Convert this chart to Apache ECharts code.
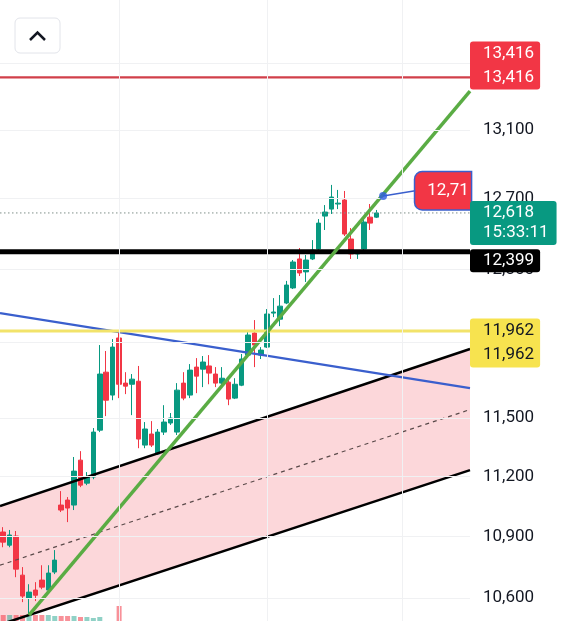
<!DOCTYPE html>
<html><head><meta charset="utf-8">
<script src="https://cdn.jsdelivr.net/npm/echarts@6/dist/echarts.min.js"></script>
<style>html,body{margin:0;padding:0;background:#fff;overflow:hidden}#c{width:563px;height:621px}</style>
</head><body><div id="c"></div>
<script>
// ---- data ----
const opens  = [10922,10857,10902,10711,10600,10639,10687,10639,10726,11056,11081,11056,11283,11166,11197,11437,11741,11620,11924,11683,11677,11693,11360,11417,11314,11427,11474,11427,11683,11620,11768,11757,11774,11731,11683,11688,11604,11672,11832,11951,11832,11875,12059,12026,12114,12197,12358,12286,12358,12414,12600,12640,12669,12692,12470,12386,12414,12594,12594];
const closes = [10872,10907,10740,10610,10629,10614,10653,10721,10784,11031,11041,11227,11156,11197,11427,11731,11593,11875,11677,11667,11704,11391,11443,11360,11427,11479,11500,11646,11604,11752,11720,11795,11736,11683,11709,11599,11677,11811,11940,11886,11859,12054,12065,12097,12213,12341,12280,12352,12408,12560,12623,12709,12674,12498,12386,12402,12566,12560,12618];
const lows   = [10847,10847,10701,10581,10519,10586,10643,10634,10716,11021,10971,11031,11146,11156,11186,11427,11510,11593,11604,11625,11515,11344,11344,11350,11309,11412,11464,11412,11593,11604,11630,11662,11677,11662,11672,11567,11599,11667,11827,11768,11811,11870,12037,11988,12108,12191,12263,12230,12352,12408,12521,12612,12640,12487,12358,12358,12391,12521,12589];
const highs  = [10946,10932,10927,10750,10667,10677,10759,10759,10833,11126,11096,11299,11329,11222,11448,11886,11854,11918,11962,11741,11731,11774,11479,11484,11443,11567,11526,11683,11741,11784,11816,11827,11832,11768,11768,11699,11709,11838,11956,12021,11875,12081,12141,12158,12236,12352,12419,12380,12464,12583,12663,12779,12750,12744,12532,12408,12589,12669,12635];
const volumes = [6,6,6,6,6,6,6,6,5,5,5,5,4,4,3,4,0,0,15,0,0,0,0,0,0,0,0,0,0,0,0,0,0,0,0,0,0,0,0,0,0,0,0,0,0,0,0,0,0,0,0,0,0,0,0,0,0,0,0];
const slots = Array.from({length: 73}, (_, i) => 'bar ' + (i + 1));
const yTicks = [10600, 10900, 11200, 11500, 11900, 12300, 12700, 13100, 13500];
const yMin = 10491, yMax = 13894;
const xStart = -0.5, xEnd = 72.5;
const timeGrid = [18, 41, 62];
const levelRed = 13416;
const levelYellow = 11962;
const levelBlack = 12399;
const lastPrice = 12618;
const lastTime = '15:33:11';
const blueLine = [[-0.5, 12059], [72.5, 11657]];
const greenLine = [[4, 10519], [72.5, 13333]];
const channelUpper = [[-0.5, 11051], [72.5, 11865]];
const channelLower = [[-0.5, 10474], [72.5, 11232]];
const channelMid = [[-0.5, 10759], [72.5, 11544]];
const notePoint = [59.0, 12715];
const noteLabelAt = [64.0, 12745];
const noteText = '12,71';

// ---- chart ----
const UP = '#089981', DOWN = '#f23645';
const fmt = v => Math.round(v).toLocaleString('en-US');
const candleData = opens.map((o, i) => [o, closes[i], lows[i], highs[i]]);
const hLine = v => [[xStart, v], [xEnd, v]];
const lineSeries = (data, color, width, z, type) => ({
  type: 'line', xAxisIndex: 1, yAxisIndex: 0, data, symbol: 'none', silent: true, z,
  lineStyle: { color, width, type: type || 'solid', cap: 'butt' }, animation: false
});
const FONT = 'Roboto';
const badge = (v, text, bg, fg, dy, padding, lineHeight) => ({
  coord: [xEnd, v], symbol: 'circle', symbolSize: 0,
  label: {
    show: true, position: 'right', distance: 0, offset: [0, dy], formatter: text,
    backgroundColor: bg, color: fg, padding, lineHeight, fontSize: 17, fontFamily: FONT,
    borderRadius: 3, align: 'left'
  }
});

const chart = echarts.init(document.getElementById('c'));
chart.setOption({
  animation: false,
  backgroundColor: '#ffffff',
  grid: { left: -2, right: 93, top: 0, bottom: 0 },
  xAxis: [
    { type: 'category', data: slots, boundaryGap: true, show: false },
    { type: 'value', min: xStart, max: xEnd, show: false }
  ],
  yAxis: [
    { type: 'log', logBase: 10, min: yMin, max: yMax, position: 'right',
      axisLine: { show: false }, axisTick: { show: false }, splitLine: { show: false },
      axisLabel: { customValues: yTicks, formatter: v => fmt(v), fontSize: 17, color: '#131722', margin: 13, fontFamily: FONT } },
    { type: 'value', min: 0, max: 621, show: false }
  ],
  graphic: [
    { type: 'rect', shape: { x: 15, y: 18, width: 45, height: 35, r: 5 }, style: { fill: '#ffffff', stroke: '#e2e4ea', lineWidth: 1 }, z: 100 },
    { type: 'polyline', shape: { points: [[30, 40], [37.5, 32.5], [45, 40]] }, style: { stroke: '#131722', lineWidth: 2.5, fill: null }, z: 101 }
  ],
  series: [
    { type: 'line', xAxisIndex: 1, yAxisIndex: 0, data: [[xStart, yTicks[0]]], symbol: 'none', lineStyle: { width: 0 }, silent: true, z: 0,
      markLine: { silent: true, symbol: ['none', 'none'], label: { show: false },
        lineStyle: { color: '#f0f1f3', width: 1, type: 'solid' },
        data: yTicks.map(v => ({ yAxis: v })).concat(timeGrid.map(x => ({ xAxis: x }))) } },
    { type: 'custom', xAxisIndex: 1, yAxisIndex: 0, z: 1, silent: true, clip: true, data: [[0, channelUpper[0][1]]],
      renderItem: (params, api) => {
        const pts = channelUpper.map(p => api.coord(p)).concat(channelLower.slice().reverse().map(p => api.coord(p)));
        return { type: 'polygon', shape: { points: pts }, style: { fill: 'rgba(242,54,69,0.2)' } };
      } },
    { type: 'bar', xAxisIndex: 0, yAxisIndex: 1, z: 1, silent: true, barWidth: 5,
      data: volumes.map((v, i) => ({ value: v, itemStyle: { color: closes[i] >= opens[i] ? 'rgba(8,153,129,0.45)' : 'rgba(242,54,69,0.55)' } })) },
    { type: 'candlestick', xAxisIndex: 0, yAxisIndex: 0, z: 2, data: candleData, barWidth: 5, silent: true,
      itemStyle: { color: UP, color0: DOWN, borderColor: UP, borderColor0: DOWN, borderWidth: 1 } },
    lineSeries(channelUpper, '#000000', 2.5, 3),
    lineSeries(channelLower, '#000000', 2.5, 3),
    lineSeries(channelMid, '#5a4a4a', 1.2, 3, [4, 4]),
    lineSeries(blueLine, '#3a5fcd', 2.2, 3),
    lineSeries(hLine(levelYellow), '#f2e36a', 3, 3),
    lineSeries(hLine(lastPrice), '#7f8f8a', 1, 3, [1.5, 2.5]),
    lineSeries(hLine(levelBlack), '#000000', 5, 3),
    lineSeries(hLine(levelRed), '#d13f4a', 2.2, 3),
    lineSeries(greenLine, '#5aac44', 3.5, 4),
    Object.assign(lineSeries([notePoint, noteLabelAt], '#3a5fcd', 1.5, 5), {
      markPoint: { data: [{ coord: noteLabelAt, symbol: 'circle', symbolSize: 0,
        label: { show: true, position: 'right', distance: 0, formatter: noteText, color: '#ffffff', fontSize: 17, fontFamily: FONT,
          backgroundColor: DOWN, borderColor: '#3a5fcd', borderWidth: 1.5, borderRadius: [7, 0, 0, 7], padding: [10, 2, 10, 12] } }] } }),
    { type: 'scatter', xAxisIndex: 1, yAxisIndex: 0, z: 5, silent: true, data: [notePoint], symbolSize: 8, itemStyle: { color: '#2f5fe0' } },
    { type: 'line', xAxisIndex: 1, yAxisIndex: 0, data: [[xStart, lastPrice]], symbol: 'none', lineStyle: { width: 0 }, silent: true, z: 10,
      markPoint: { silent: true, data: [
        badge(levelRed, fmt(levelRed) + '\n' + fmt(levelRed), DOWN, '#ffffff', -12, [0, 6, 0, 13], 24),
        badge(levelYellow, fmt(levelYellow) + '\n' + fmt(levelYellow), '#f7e34f', '#131722', 12, [1, 6, 0, 13], 24),
        badge(lastPrice, fmt(lastPrice) + '\n' + lastTime, UP, '#ffffff', 10, [2, 8, 2, 13], 20),
        badge(levelBlack, fmt(levelBlack), '#000000', '#ffffff', 9, [2, 6, 1, 13], 20)
      ] } }
  ]
});
</script></body></html>
